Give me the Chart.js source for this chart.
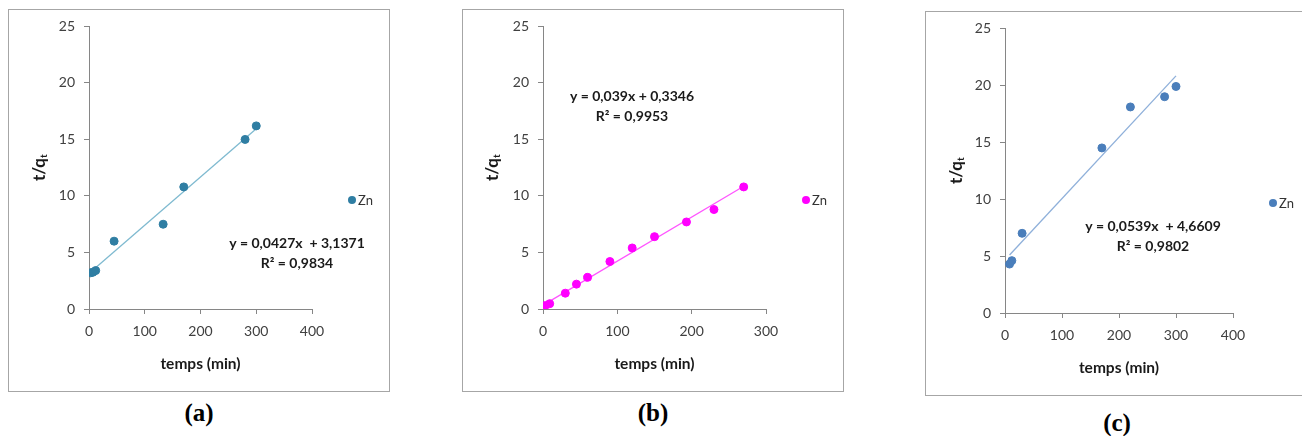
<!DOCTYPE html>
<html>
<head>
<meta charset="utf-8">
<script src="https://cdn.jsdelivr.net/npm/chart.js@4.4.0/dist/chart.umd.min.js"></script>
<style>
  html, body { margin: 0; padding: 0; background: #fff; }
  body { width: 1302px; height: 436px; position: relative; overflow: hidden; }
  .panel { position: absolute; }
  .cap { position: absolute; font-family: "Liberation Serif", serif; font-weight: bold; font-size: 25px; color: #000; transform: translate(-50%, -50%); white-space: nowrap; }
</style>
</head>
<body>
<div class="panel" style="left:8px;top:9px;"><canvas id="cA" width="382" height="383"></canvas></div>
<div class="panel" style="left:462px;top:9px;"><canvas id="cB" width="382" height="383"></canvas></div>
<div class="panel" style="left:925px;top:11px;"><canvas id="cC" width="377" height="385"></canvas></div>
<div class="cap" style="left:199px;top:413px;">(a)</div>
<div class="cap" style="left:653px;top:413px;">(b)</div>
<div class="cap" style="left:1117px;top:423px;">(c)</div>
<script>
// ---------- data ----------
const seriesName = 'Zn';
const xTitle = 'temps (min)';

const timeA = [3, 7, 12, 45, 133, 170, 280, 300];
const valA  = [3.2, 3.25, 3.4, 6.0, 7.5, 10.8, 15.0, 16.2];
const slopeA = 0.0427, interceptA = 3.1371;
const eqA = ['y = 0,0427x  + 3,1371', 'R² = 0,9834'];

const timeB = [3, 9, 30, 45, 60, 90, 120, 150, 193, 230, 270];
const valB  = [0.3, 0.47, 1.4, 2.2, 2.8, 4.2, 5.4, 6.4, 7.7, 8.8, 10.8];
const slopeB = 0.039, interceptB = 0.3346;
const eqB = ['y = 0,039x + 0,3346', 'R² = 0,9953'];

const timeC = [8, 12, 30, 170, 220, 280, 300];
const valC  = [4.3, 4.6, 7.0, 14.5, 18.1, 19.0, 19.9];
const slopeC = 0.0539, interceptC = 4.6609;
const eqC = ['y = 0,0539x  + 4,6609', 'R² = 0,9802'];

const yTicksMax = 25, yStep = 5;
const xMaxA = 400, xMaxB = 300, xMaxC = 400, xStep = 100;

// ---------- styling / layout ----------
const FONT = 'Lato, "Open Sans", "Liberation Sans", sans-serif';
const AXIS = '#868686';
const TICKC = '#404040';
const TXT = '#1a1a1a';
const XT_SIZE = 15.5;

function pts(xs, ys) { return xs.map((x, i) => ({ x: x, y: ys[i] })); }
function trend(xs, m, b) {
  const lo = Math.min(...xs), hi = Math.max(...xs);
  return [{ x: lo, y: m * lo + b }, { x: hi, y: m * hi + b }];
}

function makeChart(id, cfg) {
  const canvas = document.getElementById(id);
  const W = canvas.width, H = canvas.height;
  const L = cfg.layout;
  const titleLH = XT_SIZE * 1.2;
  const xH = (L.xTitleY + titleLH / 2) - L.b;

  const overlay = {
    id: 'overlay' + id,
    beforeDraw(chart) {
      const ctx = chart.ctx;
      ctx.save();
      ctx.fillStyle = '#fff';
      ctx.fillRect(0, 0, W, H);
      ctx.strokeStyle = '#a6a6a6';
      ctx.lineWidth = 1;
      ctx.strokeRect(0.5, 0.5, (L.frameW || W) - 1, H - 1);
      ctx.restore();
    },
    afterDraw(chart) {
      const ctx = chart.ctx;
      const ca = chart.chartArea;
      ctx.save();
      // y axis title with subscript
      ctx.translate(L.yTitleX, (ca.top + ca.bottom) / 2);
      ctx.rotate(-Math.PI / 2);
      ctx.fillStyle = TXT;
      ctx.textBaseline = 'middle';
      ctx.font = 'bold 17px ' + FONT;
      const main = 't/q';
      const wMain = ctx.measureText(main).width;
      ctx.font = 'bold 10px ' + FONT;
      const wSub = ctx.measureText('t').width;
      const x0 = -(wMain + wSub) / 2;
      ctx.font = 'bold 17px ' + FONT;
      ctx.textAlign = 'left';
      ctx.fillText(main, x0, 0);
      ctx.font = 'bold 10px ' + FONT;
      ctx.fillText('t', x0 + wMain, 4);
      ctx.restore();

      // legend
      ctx.save();
      ctx.fillStyle = cfg.pointColor;
      ctx.beginPath();
      ctx.arc(L.legX, L.legY, 4, 0, Math.PI * 2);
      ctx.fill();
      ctx.fillStyle = '#333';
      ctx.font = '13px ' + FONT;
      ctx.textAlign = 'left';
      ctx.textBaseline = 'middle';
      ctx.fillText(seriesName, L.legX + 6, L.legY + 1);
      ctx.restore();

      // equation
      ctx.save();
      ctx.fillStyle = TXT;
      ctx.font = 'bold 14px ' + FONT;
      ctx.textAlign = 'center';
      ctx.textBaseline = 'middle';
      ctx.fillText(cfg.eq[0], L.eqX, L.eqY);
      ctx.fillText(cfg.eq[1], L.eqX, L.eqY + 20);
      ctx.restore();
    }
  };

  return new Chart(canvas, {
    type: 'scatter',
    data: {
      datasets: [
        {
          type: 'line',
          label: 'trend',
          data: trend(cfg.xs, cfg.m, cfg.b),
          borderColor: cfg.lineColor,
          borderWidth: 1.3,
          pointRadius: 0,
          fill: false,
          order: 2
        },
        {
          label: seriesName,
          data: pts(cfg.xs, cfg.ys),
          backgroundColor: cfg.pointColor,
          borderColor: cfg.pointColor,
          pointRadius: 4,
          pointHoverRadius: 4,
          order: 1
        }
      ]
    },
    options: {
      responsive: false,
      animation: false,
      devicePixelRatio: 1,
      layout: {
        padding: { left: 0, top: L.t, right: W - L.r, bottom: H - L.b - xH }
      },
      plugins: { legend: { display: false }, tooltip: { enabled: false } },
      scales: {
        x: {
          type: 'linear', min: 0, max: cfg.xMax,
          ticks: { stepSize: xStep, color: TICKC, font: { family: FONT, size: 14 }, padding: 9, maxRotation: 0 },
          grid: { drawOnChartArea: false, drawTicks: true, tickLength: 5, color: AXIS },
          border: { color: AXIS, width: 1 },
          title: { display: true, text: xTitle, color: TXT, font: { family: FONT, size: XT_SIZE, weight: 'bold' }, padding: { top: 0, bottom: 0 } },
          afterFit(s) { s.height = xH; }
        },
        y: {
          type: 'linear', min: 0, max: yTicksMax,
          ticks: { stepSize: yStep, color: TICKC, font: { family: FONT, size: 14 }, padding: 9 },
          grid: { drawOnChartArea: false, drawTicks: true, tickLength: 5, color: AXIS },
          border: { color: AXIS, width: 1 },
          afterFit(s) { s.width = L.l; }
        }
      }
    },
    plugins: [overlay]
  });
}

makeChart('cA', {
  xs: timeA, ys: valA, m: slopeA, b: interceptA, eq: eqA, xMax: xMaxA,
  pointColor: '#2f7ea3', lineColor: '#7fbad0',
  layout: { l: 81, r: 304, t: 16, b: 300, xTitleY: 355, yTitleX: 32, legX: 344, legY: 191, eqX: 289, eqY: 234 }
});
makeChart('cB', {
  xs: timeB, ys: valB, m: slopeB, b: interceptB, eq: eqB, xMax: xMaxB,
  pointColor: '#ff00ff', lineColor: '#ff55ff',
  layout: { l: 81, r: 304, t: 16, b: 300, xTitleY: 355, yTitleX: 31, legX: 344, legY: 191, eqX: 170, eqY: 87 }
});
makeChart('cC', {
  xs: timeC, ys: valC, m: slopeC, b: interceptC, eq: eqC, xMax: xMaxC,
  pointColor: '#4a7ebb', lineColor: '#8fb0da',
  layout: { l: 80, r: 308, t: 16, b: 302, xTitleY: 357, yTitleX: 32, legX: 348, legY: 192, eqX: 228, eqY: 215, frameW: 420 }
});
</script>
</body>
</html>
